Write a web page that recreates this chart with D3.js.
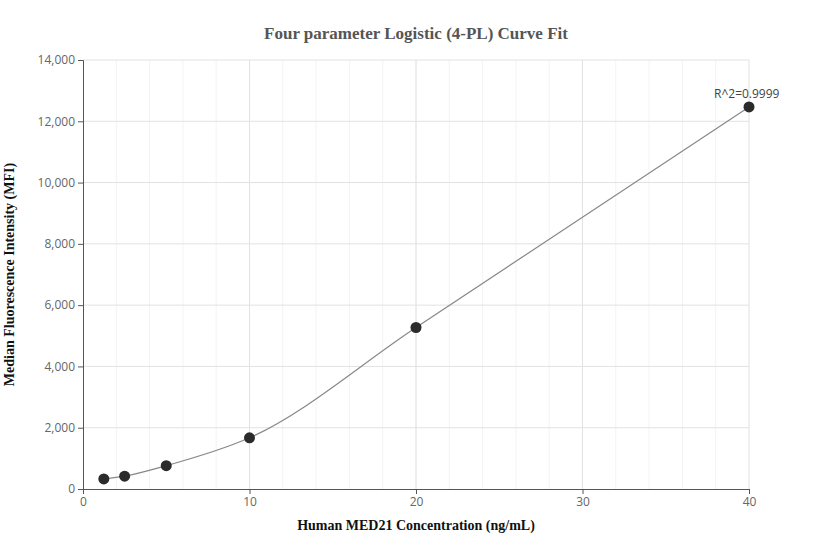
<!DOCTYPE html>
<html>
<head>
<meta charset="utf-8">
<script src="https://cdn.jsdelivr.net/npm/d3@7"></script>
<style>
  body { margin: 0; background: #fff; }
  .tick text { font-family: "Open Sans", sans-serif; font-size: 12px; fill: #666; }
</style>
</head>
<body>
<script>
// Data
var concentrations = [1.25, 2.5, 5, 10, 20, 40];
var mfiValues = [330, 420, 760, 1670, 5270, 12470];
var xTicks = [0, 10, 20, 30, 40];
var yTicks = [0, 2000, 4000, 6000, 8000, 10000, 12000, 14000];

var svgWidth = 832, svgHeight = 560;
var margin = { top: 60, right: 83, bottom: 71, left: 83 };
var chartWidth = svgWidth - margin.left - margin.right;
var chartHeight = svgHeight - margin.top - margin.bottom;

var svg = d3.select("body").append("svg")
  .attr("width", svgWidth).attr("height", svgHeight);
var chartGroup = svg.append("g")
  .attr("transform", `translate(${margin.left}, ${margin.top})`);

var x = d3.scaleLinear().domain([0, 40]).range([0, chartWidth]);
var y = d3.scaleLinear().domain([0, 14000]).range([chartHeight, 0]);

// minor x grid
chartGroup.selectAll(".minor").data(d3.range(2, 40, 2))
  .enter().append("line")
  .attr("x1", d => x(d)).attr("x2", d => x(d))
  .attr("y1", 0).attr("y2", chartHeight)
  .attr("stroke", "#f3f3f3");
// major grid
chartGroup.selectAll(".vgrid").data(xTicks.slice(1))
  .enter().append("line")
  .attr("x1", d => x(d)).attr("x2", d => x(d))
  .attr("y1", 0).attr("y2", chartHeight)
  .attr("stroke", "#e2e2e2");
chartGroup.selectAll(".hgrid").data(yTicks.slice(1))
  .enter().append("line")
  .attr("x1", 0).attr("x2", chartWidth)
  .attr("y1", d => y(d)).attr("y2", d => y(d))
  .attr("stroke", "#e2e2e2");

// axes
var leftAxis = d3.axisLeft(y).tickValues(yTicks).tickFormat(d3.format(",")).tickSize(5).tickPadding(3);
var bottomAxis = d3.axisBottom(x).tickValues(xTicks).tickSize(5).tickPadding(3);
var gl = chartGroup.append("g").call(leftAxis);
var gb = chartGroup.append("g").attr("transform", `translate(0, ${chartHeight})`).call(bottomAxis);
[gl, gb].forEach(g => {
  g.select(".domain").attr("stroke", "#555");
  g.selectAll(".tick line").attr("stroke", "#555");
});

// fitted curve
var line = d3.line().x(d => x(d[0])).y(d => y(d[1])).curve(d3.curveMonotoneX);
var pts = concentrations.map((c, i) => [c, mfiValues[i]]);
chartGroup.append("path").datum(pts)
  .attr("d", line).attr("fill", "none")
  .attr("stroke", "#888").attr("stroke-width", 1.2);

chartGroup.selectAll("circle").data(pts).enter().append("circle")
  .attr("cx", d => x(d[0])).attr("cy", d => y(d[1]))
  .attr("r", 5.5).attr("fill", "#2b2b2b");

chartGroup.append("text")
  .attr("x", x(40) - 35).attr("y", y(12470) - 9)
  .attr("font-family", "Open Sans, sans-serif").attr("font-size", 12)
  .attr("fill", "#444").text("R^2=0.9999");

// titles
svg.append("text").attr("x", 416).attr("y", 39).attr("text-anchor", "middle")
  .attr("font-family", "Liberation Serif, serif").attr("font-weight", "bold")
  .attr("font-size", 17).attr("fill", "#555")
  .text("Four parameter Logistic (4-PL) Curve Fit");
svg.append("text").attr("x", margin.left + chartWidth / 2).attr("y", 530).attr("text-anchor", "middle")
  .attr("font-family", "Liberation Serif, serif").attr("font-weight", "bold")
  .attr("font-size", 14).attr("fill", "#111")
  .text("Human MED21 Concentration (ng/mL)");
svg.append("text")
  .attr("transform", `translate(14, ${margin.top + chartHeight / 2}) rotate(-90)`)
  .attr("text-anchor", "middle")
  .attr("font-family", "Liberation Serif, serif").attr("font-weight", "bold")
  .attr("font-size", 14).attr("fill", "#111")
  .text("Median Fluorescence Intensity (MFI)");
</script>
</body>
</html>
